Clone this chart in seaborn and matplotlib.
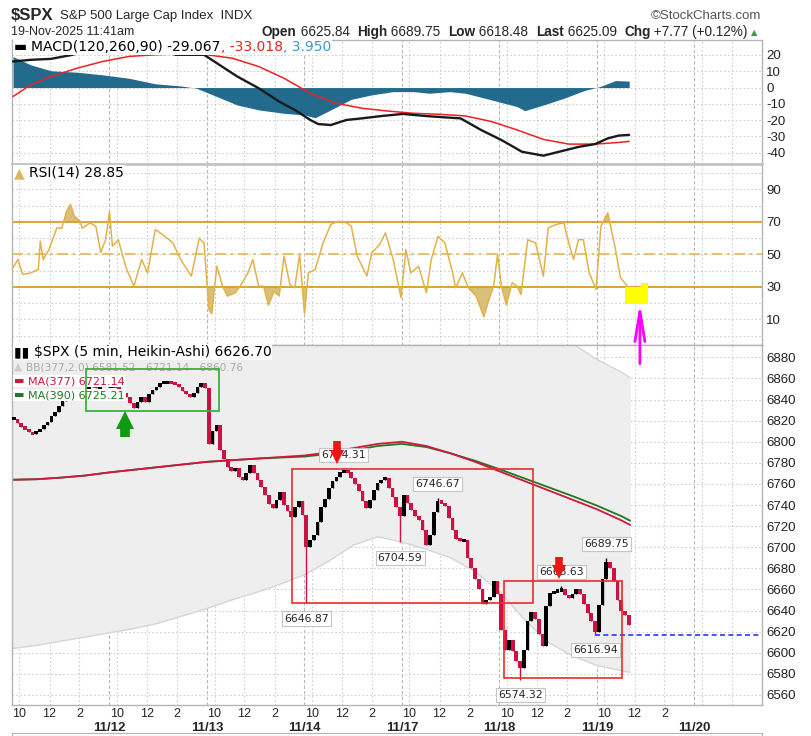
import numpy as np
import matplotlib
matplotlib.use("Agg")
import matplotlib.pyplot as plt
import seaborn as sns
from matplotlib.patches import Rectangle, ConnectionPatch

# time unit: one trading session (9:30-16:00), 11/11 open = 0
session_names = ["11/11", "11/12", "11/13", "11/14", "11/17", "11/18", "11/19", "11/20"]
BARS_PER_DAY = 26  # 15 minute steps

# Heikin-Ashi closes, every 15 minutes
ha_nov11 = [6822, 6818, 6814, 6812, 6809, 6807, 6810, 6812, 6816, 6819, 6824, 6828, 6834,
            6839, 6842, 6845, 6843, 6847, 6850, 6848, 6852, 6854, 6851, 6853, 6856, 6852]
ha_nov12 = [6853, 6852, 6850, 6846, 6842, 6837, 6832, 6838, 6842, 6838, 6845, 6849, 6852,
            6856, 6856, 6857, 6856, 6855, 6852, 6848, 6845, 6842, 6846, 6852, 6856, 6851]
ha_nov13 = [6798, 6810, 6816, 6792, 6784, 6776, 6772, 6775, 6767, 6764, 6770, 6778, 6770,
            6764, 6757, 6750, 6741, 6737, 6745, 6752, 6740, 6734, 6729, 6738, 6744, 6731]
ha_nov14 = [6700, 6707, 6712, 6724, 6738, 6746, 6756, 6763, 6767, 6771, 6773, 6771, 6766,
            6760, 6753, 6744, 6737, 6745, 6754, 6761, 6764, 6766, 6756, 6748, 6738, 6730]
ha_nov17 = [6750, 6742, 6735, 6730, 6726, 6716, 6702, 6712, 6733, 6744, 6742, 6739, 6728,
            6716, 6708, 6706, 6707, 6690, 6680, 6670, 6660, 6646, 6650, 6653, 6668, 6656]
ha_nov18 = [6622, 6603, 6612, 6602, 6592, 6586, 6603, 6630, 6639, 6632, 6618, 6606, 6644,
            6657, 6658, 6659, 6660, 6655, 6652, 6656, 6660, 6656, 6646, 6638, 6630, 6620]
ha_nov19 = [6645, 6670, 6686, 6680, 6668, 6650, 6640, 6636, 6626.70]
sessions = [ha_nov11, ha_nov12, ha_nov13, ha_nov14, ha_nov17, ha_nov18, ha_nov19]

# labelled highs / lows: session, 15 min bar, price
ext_session = [3, 3, 3, 4, 5, 5, 5, 6]
ext_bar = [0, 10, 25, 9, 5, 16, 25, 2]
ext_price = [6646.87, 6774.31, 6704.59, 6746.67, 6574.32, 6663.63, 6616.94, 6689.75]

# moving averages and Bollinger bands
ma_time = [0, 0.25, 0.5, 0.75, 1.0, 1.25, 1.5, 1.75, 2.0, 2.25, 2.5, 2.75, 3.0, 3.25,
           3.5, 3.75, 4.0, 4.25, 4.5, 4.75, 5.0, 5.25, 5.5, 5.75, 6.0, 6.25, 6.34]
ma377 = [6764, 6764.5, 6766, 6768, 6771, 6773.5, 6776, 6778.5, 6781, 6782.5, 6784, 6785.5,
         6787, 6790, 6794, 6798, 6800, 6796, 6789, 6781, 6772, 6763, 6754, 6745, 6736,
         6725.5, 6721.14]
ma390 = [6764, 6764.5, 6766, 6768, 6771, 6773.5, 6776, 6778.5, 6781, 6782.5, 6784, 6785,
         6786, 6788.5, 6792, 6796, 6798, 6795, 6789, 6782, 6774, 6765.5, 6757, 6748.5,
         6739.5, 6729.5, 6725.21]
bb_lower = [6604, 6607, 6611, 6615, 6619, 6623, 6628, 6635, 6642, 6650, 6657, 6665, 6674,
            6687, 6702, 6710, 6705, 6698, 6690, 6677, 6658, 6632, 6610, 6597, 6588, 6583,
            6581.52]
bb_upper = [6925, 6923, 6922, 6921, 6922, 6923, 6923, 6921, 6919, 6916, 6912, 6908, 6904,
            6900, 6897, 6896, 6897, 6898, 6900, 6901, 6900, 6898, 6896, 6893, 6878, 6866,
            6860.76]

# MACD(120,260,90)
macd_time = [0.01, 0.19, 0.40, 0.62, 0.72, 0.93, 1.20, 1.47, 1.68, 1.97, 2.10, 2.31, 2.53,
             2.74, 2.90, 3.06, 3.14, 3.27, 3.43, 3.59, 3.80, 4.01, 4.23, 4.44, 4.60, 4.81,
             5.02, 5.23, 5.45, 5.61, 5.82, 5.98, 6.11, 6.22, 6.33]
macd_line = [16.0, 17.0, 17.6, 20.1, 22.2, 24.2, 25.2, 23.6, 20.1, 20.1, 15.0, 6.8, -0.4,
             -8.6, -13.7, -19.9, -22.4, -23.0, -19.9, -18.9, -17.4, -16.2, -17.4, -18.3,
             -18.9, -26.0, -32.2, -39.4, -41.8, -39.4, -36.3, -34.7, -31.2, -29.5, -29.067]
signal_time = [0.01, 0.19, 0.40, 0.67, 0.93, 1.20, 1.47, 1.73, 2.00, 2.26, 2.53, 2.79, 3.06,
               3.32, 3.59, 3.85, 4.12, 4.38, 4.65, 4.92, 5.18, 5.45, 5.71, 5.98, 6.24, 6.33]
signal_line = [-5.5, 1.6, 6.8, 11.9, 16.0, 19.1, 20.1, 20.7, 20.1, 18.0, 12.9, 5.7, -3.5,
               -9.6, -12.7, -14.4, -15.8, -16.4, -17.4, -20.9, -26.0, -31.8, -34.7, -34.7,
               -33.6, -33.018]
hist_time = [0.01, 0.19, 0.40, 0.67, 0.93, 1.20, 1.47, 1.73, 1.89, 2.10, 2.31, 2.53, 2.79,
             3.00, 3.11, 3.27, 3.48, 3.69, 3.91, 4.12, 4.28, 4.49, 4.65, 4.92, 5.18, 5.26,
             5.45, 5.66, 5.87, 6.03, 6.19, 6.33]
hist_value = [19.0, 14.0, 10.3, 9.4, 7.8, 5.7, 2.3, 1.0, -0.4, -5.5, -10.7, -13.7, -15.8,
              -16.8, -18.5, -13.7, -7.2, -4.5, -2.5, -2.5, -3.5, -2.5, -3.5, -7.6, -11.7,
              -14.2, -10.7, -6.6, -1.8, 0.6, 4.3, 3.95]

# RSI(14)
rsi_time = [0.01, 0.06, 0.11, 0.19, 0.27, 0.29, 0.32, 0.38, 0.46, 0.51, 0.56, 0.60, 0.64,
            0.70, 0.72, 0.80, 0.86, 0.91, 0.96, 1.00, 1.03, 1.09, 1.17, 1.25, 1.33, 1.39,
            1.47, 1.57, 1.65, 1.73, 1.84, 1.92, 1.97, 2.02, 2.05, 2.10, 2.16, 2.21, 2.29,
            2.34, 2.42, 2.47, 2.53, 2.58, 2.63, 2.69, 2.74, 2.79, 2.85, 2.90, 2.95, 3.00,
            3.04, 3.11, 3.19, 3.27, 3.35, 3.43, 3.48, 3.54, 3.64, 3.69, 3.77, 3.83, 3.91,
            3.99, 4.04, 4.09, 4.17, 4.25, 4.30, 4.37, 4.44, 4.52, 4.55, 4.62, 4.68, 4.76,
            4.84, 4.89, 4.94, 4.98, 5.02, 5.07, 5.13, 5.18, 5.22, 5.29, 5.37, 5.45, 5.50,
            5.58, 5.66, 5.71, 5.76, 5.81, 5.86, 5.92, 5.99, 6.04, 6.11, 6.19, 6.24, 6.30,
            6.33]
rsi_value = [41.7, 46.8, 37.6, 38.6, 40.7, 58.0, 46.8, 53.0, 66.3, 66.0, 76.6, 80.7, 73.5,
             70.4, 66.0, 69.4, 67.3, 51.0, 59.0, 76.0, 55.0, 59.0, 41.7, 30.4, 46.8, 38.6,
             65.3, 61.0, 57.0, 46.8, 36.6, 60.0, 56.8, 16.0, 13.5, 42.7, 30.4, 24.3, 26.3,
             30.4, 38.6, 46.8, 30.4, 30.4, 18.8, 27.3, 24.3, 48.9, 31.4, 29.4, 50.0, 13.5,
             38.6, 40.7, 57.0, 68.4, 70.4, 69.4, 67.3, 48.9, 36.6, 51.0, 56.0, 63.2, 46.8,
             23.3, 53.0, 38.6, 42.7, 26.3, 46.8, 61.0, 57.0, 38.6, 29.4, 38.6, 29.4, 24.3,
             11.6, 21.9, 30.4, 50.0, 30.4, 18.8, 32.5, 30.4, 25.3, 59.0, 57.0, 36.6, 66.3,
             68.4, 69.4, 57.0, 46.8, 59.0, 59.0, 38.6, 28.4, 67.3, 75.5, 53.0, 35.6, 31.4,
             28.85]

hour_names = ["10", "12", "2"]
hour_frac = [0.5 / 6.5, 2.5 / 6.5, 4.5 / 6.5]

# ---- style ----
W_PX, H_PX = 812, 736
X0, X1 = 0.0, 7.68
GRID = "#cfcfcf"
SPINE = "#b4b4b4"
UP, DOWN = "#000000", "#cc1242"
MA_RED, MA_GREEN = "#d4153f", "#1f7a1f"
RSI_GOLD = "#e2b24a"
LEVEL_GOLD = "#d9a020"
MIN_BODY = 3.0

sns.set_style("white")
plt.rcParams['font.family'] = ['Liberation Sans', 'DejaVu Sans']
plt.rcParams['axes.unicode_minus'] = False

fig = plt.figure(figsize=(W_PX / 100, H_PX / 100), dpi=100)
renderer = fig.canvas.get_renderer()

L, W = 12 / W_PX, 750 / W_PX
ax_macd = fig.add_axes([L, 0.7772, W, 0.1685])
ax_rsi = fig.add_axes([L, 0.5312, W, 0.2460])
ax_px = fig.add_axes([L, 0.0421, W, 0.4891])
ax_bot = fig.add_axes([L, 0.0, W, 0.004])


def style_panel(ax, ylim, major, minor=None, xlabels=False):
    ax.set_xlim(X0, X1)
    ax.set_ylim(*ylim)
    ax.set_axisbelow(True)
    ax.yaxis.tick_right()
    ax.set_yticks(major)
    if minor is not None:
        ax.set_yticks(minor, minor=True)
    ax.tick_params(axis='y', which='both', length=0, pad=3, labelsize=9.5,
                   labelcolor='#222222')
    ax.grid(axis='y', which='both', color=GRID, ls=(0, (1.5, 2)), lw=0.8)
    ax.set_xticks([k + f for k in range(8) for f in hour_frac])
    ax.set_xticks(range(1, 8), minor=True)
    ax.grid(axis='x', which='major', color=GRID, ls=(0, (1.5, 2)), lw=0.8)
    ax.grid(axis='x', which='minor', color="#b8b8b8", ls=(0, (3, 2)), lw=0.8)
    ax.tick_params(axis='x', which='both', length=0)
    if xlabels:
        ax.set_xticklabels([hour_names[i % 3] if i < 21 else "" for i in range(24)],
                           fontsize=9)
        ax.set_xticklabels(session_names[1:], minor=True, fontsize=9.5, fontweight='bold')
        ax.tick_params(axis='x', which='major', pad=2)
        ax.tick_params(axis='x', which='minor', pad=12)
    else:
        ax.set_xticklabels([])
        ax.set_xticklabels([], minor=True)
    ax.set_xlabel("")
    ax.set_ylabel("")
    for s in ax.spines.values():
        s.set_color(SPINE)
        s.set_linewidth(1.0)


def put_runs(ax, x_px, y_px, runs, size, bg=True):
    x = x_px
    for text, color in runs:
        t = ax.text(x / W_PX, 1 - y_px / H_PX, text, transform=fig.transFigure,
                    color=color, fontsize=size, family=['DejaVu Sans'],
                    ha='left', va='center', zorder=5)
        if bg:
            t.set_bbox(dict(fc='white', ec='none', pad=0.7))
        x = t.get_window_extent(renderer).x1
    return x


def block_arrow(ax, t, tail, tip, head_units, head_ms, tail_lw, color):
    # tail as a thick segment, head as a triangle marker ending at the tip
    down = tip < tail
    sign = 1 if down else -1
    ax.vlines(t, tail, tip + sign * head_units * 0.9, colors=color, lw=tail_lw, zorder=9)
    ax.plot([t], [tip + sign * head_units / 2], marker='v' if down else '^', ms=head_ms,
            color=color, mew=0, zorder=9)


# ---- MACD panel ----
ax_macd.fill_between(hist_time, 0, hist_value, color="#226b8c", lw=0, zorder=2)
sns.lineplot(x=signal_time, y=signal_line, ax=ax_macd, color="#ee2020", lw=1.1, zorder=3)
sns.lineplot(x=macd_time, y=macd_line, ax=ax_macd, color="#1a1a1a", lw=1.7, zorder=3)
style_panel(ax_macd, (-46.9, 29.2), [-40, -30, -20, -10, 0, 10, 20])
put_runs(ax_macd, 14, 47, [("\u25ac ", 'black'), ("MACD(120,260,90) -29.067", 'black'),
                           (", -33.018", '#ee2020'), (", 3.950", '#3a9ad0')], 10)

# ---- RSI panel ----
rsi_t = np.array(rsi_time)
rsi_v = np.array(rsi_value)
ax_rsi.fill_between(rsi_t, 70, rsi_v, where=rsi_v > 70, interpolate=True,
                    color="#d9c07a", lw=0, zorder=2)
ax_rsi.fill_between(rsi_t, rsi_v, 30, where=rsi_v < 30, interpolate=True,
                    color="#d9c07a", lw=0, zorder=2)
ax_rsi.axhline(70, color=LEVEL_GOLD, lw=1.3, zorder=2)
ax_rsi.axhline(30, color=LEVEL_GOLD, lw=1.3, zorder=2)
ax_rsi.axhline(50, color="#e4bd63", lw=1.3, ls=(0, (6, 2.5, 1.5, 2.5)), zorder=2)
sns.lineplot(x=rsi_t, y=rsi_v, ax=ax_rsi, color=RSI_GOLD, lw=1.1, zorder=3)
ax_rsi.add_patch(Rectangle((6.287, 19.4), 0.236, 10.5, color="#ffff00", lw=0, zorder=6))
ax_rsi.add_patch(Rectangle((6.45, 29.0), 0.073, 3.3, color="#ffff00", lw=0, zorder=6))
style_panel(ax_rsi, (-5.8, 105.6), [10, 30, 50, 70, 90], minor=[0, 20, 40, 60, 80, 100])
ax_rsi.spines['top'].set_linewidth(2.0)
ax_rsi.spines['top'].set_color("#c4c4c4")
put_runs(ax_rsi, 14, 173, [("\u25b2 ", '#d6b660'), ("RSI(14) 28.85", 'black')], 10)

# ---- price panel ----
times, closes = [], []
for k, sess in enumerate(sessions):
    for i, c in enumerate(sess):
        times.append(k + (i + 0.5) / BARS_PER_DAY)
        closes.append(c)
times = np.array(times)
closes = np.array(closes, dtype=float)
opens = np.concatenate([[closes[0]], closes[:-1]])
lows = np.minimum(opens, closes)
highs = np.maximum(opens, closes)
ext_idx = [s * BARS_PER_DAY + b for s, b in zip(ext_session, ext_bar)]
for j, p in zip(ext_idx, ext_price):
    lows[j] = min(lows[j], p)
    highs[j] = max(highs[j], p)
colors = np.where(closes >= opens, UP, DOWN)
body_mid = (opens + closes) / 2
body_h = np.maximum(np.abs(closes - opens), MIN_BODY)

ax_px.fill_between(ma_time, bb_lower, bb_upper, color="#eeeeee", lw=0, zorder=1)
sns.lineplot(x=ma_time, y=bb_lower, ax=ax_px, color="#d6d6d6", lw=1.0, zorder=1)
sns.lineplot(x=ma_time, y=bb_upper, ax=ax_px, color="#d6d6d6", lw=1.0, zorder=1)
sns.lineplot(x=ma_time, y=ma390, ax=ax_px, color=MA_GREEN, lw=1.3, zorder=2)
sns.lineplot(x=ma_time, y=ma377, ax=ax_px, color=MA_RED, lw=1.3, zorder=2)

ax_px.vlines(times, lows, highs, colors=colors, lw=1.0, zorder=3)
ax_px.bar(times, body_h, bottom=body_mid - body_h / 2,
          width=1.0 / BARS_PER_DAY, color=colors, lw=0, zorder=4)

# drawn annotations
ax_px.add_patch(Rectangle((0.754, 6829.5), 2.127 - 0.754, 6869.3 - 6829.5, fill=False,
                          ec="#3fae3f", lw=1.3, zorder=6))
ax_px.add_patch(Rectangle((2.872, 6646.87), 5.344 - 2.872, 6774.31 - 6646.87, fill=False,
                          ec="#ee2a2a", lw=1.2, zorder=6))
ax_px.add_patch(Rectangle((5.047, 6576.4), 6.256 - 5.047, 6667.7 - 6576.4, fill=False,
                          ec="#ee2a2a", lw=1.2, zorder=6))
ax_px.hlines(ext_price[6], times[ext_idx[6]], X1, colors="#2838f0", lw=1.2,
             ls=(0, (3, 2)), zorder=5)

for j, p in zip(ext_idx, ext_price):
    dy = 10 if p > max(opens[j], closes[j]) else -11
    ax_px.annotate(f"{p:.2f}", xy=(times[j], p), xytext=(0, dy), textcoords='offset points',
                   ha='center', va='center', fontsize=7.8, family=['DejaVu Sans'],
                   bbox=dict(boxstyle='square,pad=0.2', fc='white', ec='#c4c4c4', lw=0.8),
                   zorder=8)

block_arrow(ax_px, 1.164, 6805, 6826, 11, 13.5, 7, "#109a10")
block_arrow(ax_px, 3.333, 6801, 6781, 10, 10.5, 5.5, "#ee1515")
block_arrow(ax_px, 5.61, 6691, 6672, 10, 10.5, 5.5, "#ee1515")

style_panel(ax_px, (6550.5, 6891.7), list(range(6560, 6881, 20)), xlabels=True)

put_runs(ax_px, 14, 352, [("\u25ae\u25ae ", 'black'),
                          (r"\$SPX (5 min, Heikin-Ashi) 6626.70", 'black')], 10)
put_runs(ax_px, 14, 367, [("\u25b2 ", '#cccccc'),
                          ("BB(377,2.0) 6581.52 - 6721.14 - 6860.76", '#aaaaaa')], 7.6, bg=False)
put_runs(ax_px, 14, 381, [("\u25ac ", MA_RED), ("MA(377) 6721.14", MA_RED)], 8)
put_runs(ax_px, 14, 395, [("\u25ac ", MA_GREEN), ("MA(390) 6725.21", MA_GREEN)], 8)

# magenta arrow pointing at the oversold RSI reading
con = ConnectionPatch(xyA=(6.44, 6874), coordsA='data', axesA=ax_px,
                      xyB=(6.44, 20.0), coordsB='data', axesB=ax_rsi,
                      arrowstyle="->,head_length=1.8,head_width=0.3", mutation_scale=12,
                      color="#ff00ff", lw=2.0, zorder=30)
fig.add_artist(con)

# bottom strip of the next panel
ax_bot.set_xticks([])
ax_bot.set_yticks([])
for s in ax_bot.spines.values():
    s.set_color(SPINE)

# ---- header ----
fig.text(11 / W_PX, 1 - 15 / H_PX, r"\$SPX", fontsize=12, fontweight='bold', va='center')
fig.text(60 / W_PX, 1 - 16 / H_PX, "S&P 500 Large Cap Index  INDX", fontsize=9.5,
         va='center')
fig.text(761 / W_PX, 1 - 16 / H_PX, "\u00a9StockCharts.com", fontsize=9.5, color='#555555',
         ha='right', va='center')
fig.text(11 / W_PX, 1 - 32 / H_PX, "19-Nov-2025 11:41am", fontsize=9, va='center')

x = 262
for word, value in [("Open", " 6625.84  "), ("High", " 6689.75  "), ("Low", " 6618.48  "),
                    ("Last", " 6625.09  "), ("Chg", " +7.77 (+0.12%)")]:
    t = fig.text(x / W_PX, 1 - 32 / H_PX, word, fontsize=9.8, fontweight='bold', va='center')
    x = t.get_window_extent(renderer).x1
    t = fig.text(x / W_PX, 1 - 32 / H_PX, value, fontsize=9.8, va='center')
    x = t.get_window_extent(renderer).x1
fig.text((x + 3) / W_PX, 1 - 33 / H_PX, "\u25b2", fontsize=6, color="#2e9e3e", va='center',
         family=['DejaVu Sans'])

fig.savefig("out.png", dpi=100)
